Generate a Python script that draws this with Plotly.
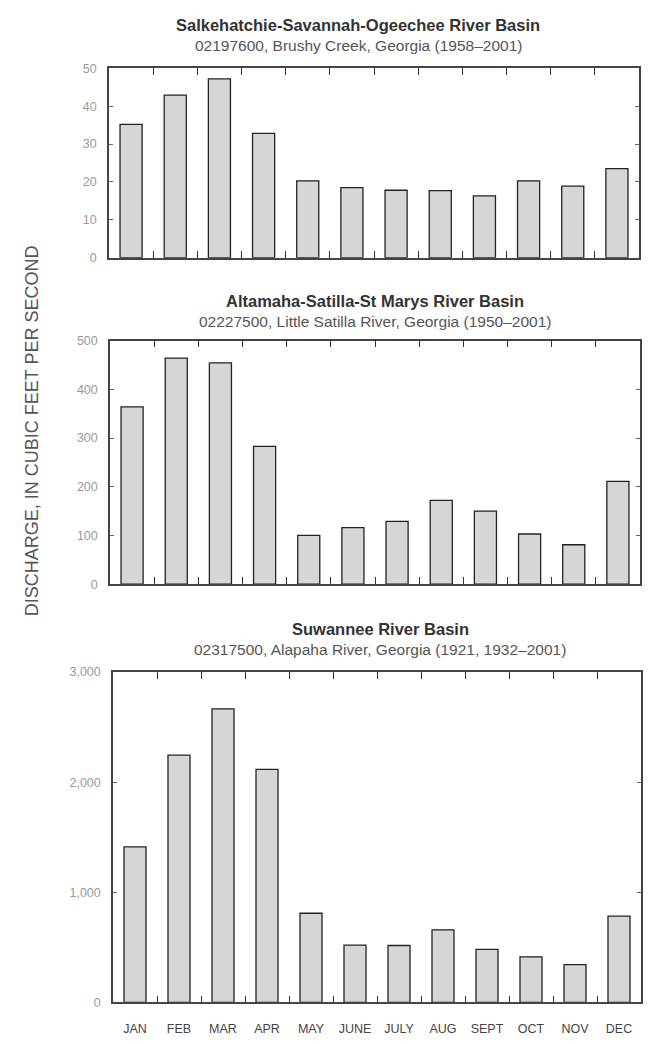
import plotly.graph_objects as go

months = ["JAN", "FEB", "MAR", "APR", "MAY", "JUNE", "JULY", "AUG", "SEPT", "OCT", "NOV", "DEC"]

# mean monthly discharge, cubic feet per second
brushy_creek = [35.2, 42.9, 47.2, 32.8, 20.3, 18.5, 17.8, 17.7, 16.3, 20.3, 18.9, 23.5]
little_satilla = [364, 464, 454, 283, 100, 116, 129, 172, 150, 103, 81, 211]
alapaha = [1413, 2246, 2666, 2116, 810, 520, 517, 659, 482, 414, 343, 783]

titles = ["Salkehatchie-Savannah-Ogeechee River Basin",
          "Altamaha-Satilla-St Marys River Basin",
          "Suwannee River Basin"]
subtitles = ["02197600, Brushy Creek, Georgia (1958\u20132001)",
             "02227500, Little Satilla River, Georgia (1950\u20132001)",
             "02317500, Alapaha River, Georgia (1921, 1932\u20132001)"]
y_ranges = [[0, 50], [0, 500], [0, 3000]]
y_dticks = [10, 100, 1000]

# the page body has an 8px margin, so work in page pixels and shift
OFF = 8
W, H = 653 - OFF, 1044 - OFF
# panel boxes in page pixels: (left, right, top, bottom)
boxes = [(109, 639, 62, 254), (110, 640, 338, 585), (113, 641, 674, 1009)]
title_y = [(18, 39), (298, 319), (630, 651)]
title_x = [358, 375, 380]

series = [brushy_creek, little_satilla, alapaha]


def px(x):
    return (x - OFF) / W


def py(y):
    return 1 - (y - OFF) / H


fig = go.Figure()
layout = dict(width=W, height=H, margin=dict(l=0, r=0, t=0, b=0),
              plot_bgcolor="white", paper_bgcolor="white",
              showlegend=False, bargap=0.5, annotations=[])

for i, vals in enumerate(series):
    n = "" if i == 0 else str(i + 1)
    fig.add_trace(go.Bar(x=months, y=vals, xaxis="x" + n, yaxis="y" + n,
                         marker=dict(color="#d6d6d6", line=dict(color="#222", width=1.3)),
                         width=0.5))
    l, r, t, b = boxes[i]
    layout["xaxis" + n] = dict(domain=[px(l), px(r)], anchor="y" + n, type="category",
                               tickson="boundaries", ticks="inside", ticklen=7,
                               tickcolor="#333", tickwidth=1.3,
                               showline=True, linecolor="#444", linewidth=1.5, mirror="ticks",
                               showgrid=False, showticklabels=(i == 2), ticklabelstandoff=14,
                               tickfont=dict(family="Liberation Sans, Arial", size=12.5, color="#444"),
                               range=[-0.5, 11.5], fixedrange=True)
    layout["yaxis" + n] = dict(domain=[py(b), py(t)], anchor="x" + n,
                               range=y_ranges[i], dtick=y_dticks[i], tickformat=",",
                               ticks="inside", ticklen=4, tickcolor="#666", tickwidth=1,
                               showline=True, linecolor="#444", linewidth=1.5, mirror="ticks",
                               showgrid=False, zeroline=False, ticklabelstandoff=8,
                               tickfont=dict(family="Liberation Sans, Arial", size=12.5, color="#999"),
                               fixedrange=True)
    layout["annotations"].append(dict(
        text="<b>" + titles[i] + "</b>", x=px(title_x[i]), y=py(title_y[i][0]),
        xref="paper", yref="paper", showarrow=False, yanchor="middle",
        font=dict(family="Liberation Sans Narrow, Liberation Sans, Arial", size=16.5, color="#333")))
    layout["annotations"].append(dict(
        text=subtitles[i], x=px(title_x[i]), y=py(title_y[i][1]),
        xref="paper", yref="paper", showarrow=False, yanchor="middle",
        font=dict(family="Liberation Sans, Arial", size=15.5, color="#555")))

layout["annotations"].append(dict(
    text="DISCHARGE, IN CUBIC FEET PER SECOND", textangle=-90,
    x=px(20), y=py(430), xref="paper", yref="paper", showarrow=False,
    font=dict(family="Liberation Sans, Arial", size=18, color="#555")))

fig.update_layout(**layout)
fig.write_html("out.html")
